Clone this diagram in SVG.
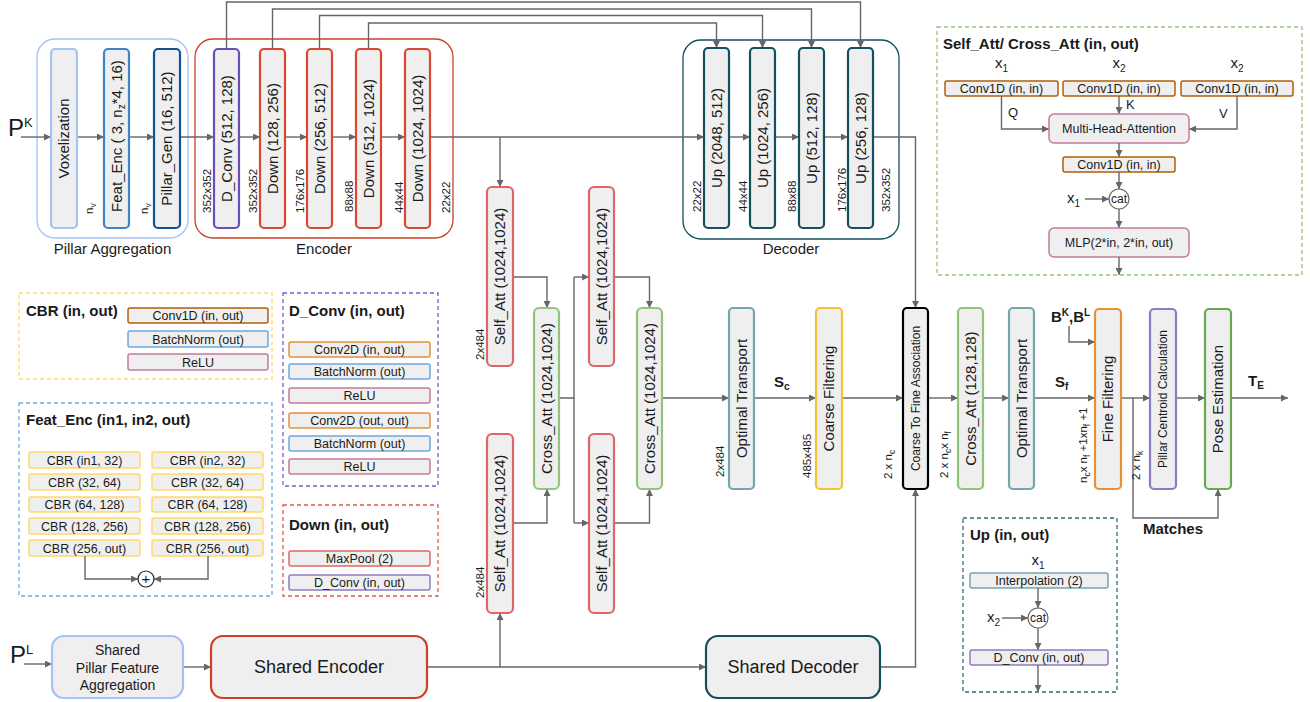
<svg xmlns="http://www.w3.org/2000/svg" width="1310" height="702" viewBox="0 0 1310 702">
<defs>
<marker id="ah" viewBox="0 0 10 10" refX="10" refY="5" markerWidth="8" markerHeight="7" markerUnits="userSpaceOnUse" orient="auto"><path d="M0,0L10,5L0,10z" fill="#666"/></marker>
<style>
text{font-family:'Liberation Sans',Arial,sans-serif;fill:#1a1a1a}
.vb{fill:#efefef;stroke-width:2.2}
.lb{fill:#efefef;stroke-width:1.5}
.cn{fill:none;stroke-width:1.3}
.ln{fill:none;stroke:#666;stroke-width:1.4}
.ar{marker-end:url(#ah)}
.dash{fill:none;stroke-width:1.3;stroke-dasharray:4 3}
.t15{font-size:15px}
.t12{font-size:12.5px}
.tv12{font-size:12px}
.t13{font-size:13px}
.s11{font-size:11.5px}
.b15{font-size:15px;font-weight:bold}
.mid{text-anchor:middle}
</style>
</defs>

<!-- containers -->
<g id="pillar-aggregation">
<rect class="cn" x="37" y="39" width="151" height="199" rx="18" stroke="#a4c2f4"/>
<text class="t15 mid" x="112.5" y="254">Pillar Aggregation</text>
</g>
<g id="encoder">
<rect class="cn" x="195" y="39" width="258" height="199" rx="18" stroke="#cc4125"/>
<text class="t15 mid" x="324" y="254">Encoder</text>
</g>
<g id="decoder">
<rect class="cn" x="683" y="40" width="216" height="199" rx="18" stroke="#134f5c"/>
<text class="t15 mid" x="791" y="254">Decoder</text>
</g>

<!-- connectors -->
<g id="connectors">
<path class="ln ar" d="M21,137H51"/>
<path class="ln ar" d="M77,137H104"/>
<path class="ln ar" d="M129,137H154"/>
<path class="ln ar" d="M180,137H214"/>
<path class="ln ar" d="M239,137H260"/>
<path class="ln ar" d="M285,137H307"/>
<path class="ln ar" d="M332,137H356"/>
<path class="ln ar" d="M381,137H405"/>
<path class="ln ar" d="M430,137H704"/>
<path class="ln ar" d="M729,137H750"/>
<path class="ln ar" d="M775,137H799"/>
<path class="ln ar" d="M824,137H848"/>
<path class="ln ar" d="M873,137H915.5V308"/>
<path class="ln ar" d="M226.5,49V2H860.5V48"/>
<path class="ln ar" d="M272.5,49V9H811.5V48"/>
<path class="ln ar" d="M319.5,49V15.5H762.5V48"/>
<path class="ln ar" d="M368.5,49V23H716.5V48"/>
<path class="ln ar" d="M500,137V187"/>
<path class="ln ar" d="M500,667V613"/>
<path class="ln ar" d="M513,277H547V308"/>
<path class="ln ar" d="M513,523H547V489"/>
<path class="ln" d="M559,398H574M574,277V523"/>
<path class="ln ar" d="M574,277H589"/>
<path class="ln ar" d="M574,523H589"/>
<path class="ln ar" d="M614,277H649.5V308"/>
<path class="ln ar" d="M614,523H649.5V489"/>
<path class="ln ar" d="M662,398H729"/>
<path class="ln ar" d="M754,398H816"/>
<path class="ln ar" d="M842,398H903"/>
<path class="ln ar" d="M928,398H958"/>
<path class="ln ar" d="M983,398H1009"/>
<path class="ln ar" d="M1034,398H1095"/>
<path class="ln ar" d="M1121,398H1150"/>
<path class="ln ar" d="M1176,398H1205"/>
<path class="ln ar" d="M1231,398H1288"/>
<path class="ln ar" d="M1133,398V518H1218V489"/>
<path class="ln ar" d="M1069,326V342H1095"/>
<path class="ln ar" d="M24,664H52"/>
<path class="ln ar" d="M183,667H211"/>
<path class="ln ar" d="M427,667H706"/>
<path class="ln ar" d="M880,667H915.5V489"/>
</g>

<!-- inputs -->
<g id="input-pk"><text x="8" y="136" font-size="24">P<tspan dy="-9" font-size="13">K</tspan></text></g>
<g id="input-pl"><text x="10" y="663" font-size="24">P<tspan dy="-9" font-size="13">L</tspan></text></g>

<!-- pillar aggregation nodes -->
<g id="voxelization"><rect class="vb" x="51" y="49" width="26" height="179" rx="4" stroke="#a4c2f4"/><text class="t15 mid" transform="rotate(-90 64 138.5)" x="64" y="143.5">Voxelization</text></g>
<g id="feat-enc"><rect class="vb" x="104" y="49" width="25" height="179" rx="4" stroke="#3d85c6"/><text class="t15 mid" transform="rotate(-90 116.5 136)" x="116.5" y="141">Feat_Enc ( 3, n<tspan dy="3" font-size="10">z</tspan><tspan dy="-3">*4, 16)</tspan></text></g>
<g id="pillar-gen"><rect class="vb" x="154" y="49" width="26" height="179" rx="4" stroke="#0b5394"/><text class="t15 mid" transform="rotate(-90 167 138.5)" x="167" y="143.5">Pillar_Gen (16, 512)</text></g>
<g id="lbl-nv"><text class="s11" transform="rotate(-90 93 214)" x="93" y="214">n<tspan dy="3" font-size="8.5">v</tspan></text><text class="s11" transform="rotate(-90 148 214)" x="148" y="214">n<tspan dy="3" font-size="8.5">v</tspan></text></g>

<!-- encoder nodes -->
<g id="d-conv"><rect class="vb" x="214" y="49" width="25" height="179" rx="4" stroke="#6a4fb5"/><text class="t15 mid" transform="rotate(-90 226.5 138.5)" x="226.5" y="143.5">D_Conv (512, 128)</text></g>
<g id="down1"><rect class="vb" x="260" y="49" width="25" height="179" rx="4" stroke="#d9482f"/><text class="t15 mid" transform="rotate(-90 272.5 138.5)" x="272.5" y="143.5">Down (128, 256)</text></g>
<g id="down2"><rect class="vb" x="307" y="49" width="25" height="179" rx="4" stroke="#d9482f"/><text class="t15 mid" transform="rotate(-90 319.5 138.5)" x="319.5" y="143.5">Down (256, 512)</text></g>
<g id="down3"><rect class="vb" x="356" y="49" width="25" height="179" rx="4" stroke="#d9482f"/><text class="t15 mid" transform="rotate(-90 368.5 138.5)" x="368.5" y="143.5">Down (512, 1024)</text></g>
<g id="down4"><rect class="vb" x="405" y="49" width="25" height="179" rx="4" stroke="#d9482f"/><text class="t15 mid" transform="rotate(-90 417.5 138.5)" x="417.5" y="143.5">Down (1024, 1024)</text></g>
<g id="enc-sizes">
<text class="s11" transform="rotate(-90 211 213)" x="211" y="213">352x352</text>
<text class="s11" transform="rotate(-90 257 213)" x="257" y="213">352x352</text>
<text class="s11" transform="rotate(-90 304 213)" x="304" y="213">176x176</text>
<text class="s11" transform="rotate(-90 353 212)" x="353" y="212">88x88</text>
<text class="s11" transform="rotate(-90 403 213)" x="403" y="213">44x44</text>
<text class="s11" transform="rotate(-90 450 213)" x="450" y="213">22x22</text>
</g>

<!-- decoder nodes -->
<g id="up1"><rect class="vb" x="704" y="48" width="25" height="180" rx="4" stroke="#134f5c" stroke-width="2.5"/><text class="t15 mid" transform="rotate(-90 716.5 138)" x="716.5" y="143">Up (2048, 512)</text></g>
<g id="up2"><rect class="vb" x="750" y="48" width="25" height="180" rx="4" stroke="#134f5c" stroke-width="2.5"/><text class="t15 mid" transform="rotate(-90 762.5 138)" x="762.5" y="143">Up (1024, 256)</text></g>
<g id="up3"><rect class="vb" x="799" y="48" width="25" height="180" rx="4" stroke="#134f5c" stroke-width="2.5"/><text class="t15 mid" transform="rotate(-90 811.5 138)" x="811.5" y="143">Up (512, 128)</text></g>
<g id="up4"><rect class="vb" x="848" y="48" width="25" height="180" rx="4" stroke="#134f5c" stroke-width="2.5"/><text class="t15 mid" transform="rotate(-90 860.5 138)" x="860.5" y="143">Up (256, 128)</text></g>
<g id="dec-sizes">
<text class="s11" transform="rotate(-90 701 212)" x="701" y="212">22x22</text>
<text class="s11" transform="rotate(-90 747 212)" x="747" y="212">44x44</text>
<text class="s11" transform="rotate(-90 796 212)" x="796" y="212">88x88</text>
<text class="s11" transform="rotate(-90 846 212)" x="846" y="212">176x176</text>
<text class="s11" transform="rotate(-90 890 212)" x="890" y="212">352x352</text>
</g>

<!-- attention stack -->
<g id="self-att-tl"><rect class="vb" x="487" y="187" width="26" height="179" rx="5" stroke="#e06666"/><text class="t15 mid" transform="rotate(-90 500 276.5)" x="500" y="281.5">Self_Att (1024,1024)</text></g>
<g id="self-att-bl"><rect class="vb" x="487" y="434" width="26" height="179" rx="5" stroke="#e06666"/><text class="t15 mid" transform="rotate(-90 500 523.5)" x="500" y="528.5">Self_Att (1024,1024)</text></g>
<g id="cross-att-l"><rect class="vb" x="534" y="308" width="25" height="181" rx="5" stroke="#93c47d"/><text class="t15 mid" transform="rotate(-90 546.5 398.5)" x="546.5" y="403.5">Cross_Att (1024,1024)</text></g>
<g id="self-att-tr"><rect class="vb" x="589" y="187" width="25" height="179" rx="5" stroke="#e06666"/><text class="t15 mid" transform="rotate(-90 601.5 276.5)" x="601.5" y="281.5">Self_Att (1024,1024)</text></g>
<g id="self-att-br"><rect class="vb" x="589" y="434" width="25" height="179" rx="5" stroke="#e06666"/><text class="t15 mid" transform="rotate(-90 601.5 523.5)" x="601.5" y="528.5">Self_Att (1024,1024)</text></g>
<g id="cross-att-r"><rect class="vb" x="637" y="308" width="25" height="181" rx="5" stroke="#93c47d"/><text class="t15 mid" transform="rotate(-90 649.5 398.5)" x="649.5" y="403.5">Cross_Att (1024,1024)</text></g>
<g id="att-sizes">
<text class="s11" transform="rotate(-90 484 360)" x="484" y="360">2x484</text>
<text class="s11" transform="rotate(-90 484 598)" x="484" y="598">2x484</text>
</g>

<!-- matching pipeline -->
<g id="optimal-transport-1"><rect class="vb" x="729" y="308" width="25" height="181" rx="4" stroke="#76a5af"/><text class="t15 mid" transform="rotate(-90 741.5 398.5)" x="741.5" y="403.5">Optimal Transport</text></g>
<g id="coarse-filtering"><rect class="vb" x="816" y="308" width="26" height="181" rx="4" stroke="#f1c232"/><text class="t15 mid" transform="rotate(-90 829 398.5)" x="829" y="403.5">Coarse Filtering</text></g>
<g id="coarse-to-fine"><rect class="vb" x="903" y="308" width="25" height="181" rx="4" stroke="#000" stroke-width="2.4"/><text class="tv12 mid" transform="rotate(-90 915.5 398.5)" x="915.5" y="402.5">Coarse To Fine Association</text></g>
<g id="cross-att-fine"><rect class="vb" x="958" y="308" width="25" height="181" rx="4" stroke="#93c47d"/><text class="t15 mid" transform="rotate(-90 970.5 398.5)" x="970.5" y="403.5">Cross_Att (128,128)</text></g>
<g id="optimal-transport-2"><rect class="vb" x="1009" y="308" width="25" height="181" rx="4" stroke="#76a5af"/><text class="t15 mid" transform="rotate(-90 1021.5 398.5)" x="1021.5" y="403.5">Optimal Transport</text></g>
<g id="fine-filtering"><rect class="vb" x="1095" y="309" width="26" height="180" rx="4" stroke="#e69138"/><text class="t15 mid" transform="rotate(-90 1108 399)" x="1108" y="404">Fine Filtering</text></g>
<g id="pillar-centroid"><rect class="vb" x="1150" y="309" width="26" height="180" rx="4" stroke="#8e7cc3"/><text class="tv12 mid" transform="rotate(-90 1163 399)" x="1163" y="403">Pillar Centroid Calculation</text></g>
<g id="pose-estimation"><rect class="vb" x="1205" y="309" width="26" height="180" rx="4" stroke="#6aa84f"/><text class="t15 mid" transform="rotate(-90 1218 399)" x="1218" y="404">Pose Estimation</text></g>
<g id="pipe-labels">
<text class="s11" transform="rotate(-90 724 477)" x="724" y="477">2x484</text>
<text class="s11" transform="rotate(-90 811 478)" x="811" y="478">485x485</text>
<text class="s11" transform="rotate(-90 892 479)" x="892" y="479">2 x n<tspan dy="3" font-size="8.5">c</tspan></text>
<text class="s11" transform="rotate(-90 948 478)" x="948" y="478">2 x n<tspan dy="3" font-size="8.5">c</tspan><tspan dy="-3">x n</tspan><tspan dy="3" font-size="8.5">f</tspan></text>
<text class="s11" transform="rotate(-90 1087 483)" x="1087" y="483">n<tspan dy="3" font-size="8.5">c</tspan><tspan dy="-3">x n</tspan><tspan dy="3" font-size="8.5">f</tspan><tspan dy="-3"> +1xn</tspan><tspan dy="3" font-size="8.5">f</tspan><tspan dy="-3"> +1</tspan></text>
<text class="s11" transform="rotate(-90 1140 480)" x="1140" y="480">2 x n<tspan dy="3" font-size="8.5">k</tspan></text>
<text class="b15" x="774" y="387">S<tspan dy="3" font-size="10">c</tspan></text>
<text class="b15" x="1055" y="387">S<tspan dy="3" font-size="10">f</tspan></text>
<text class="b15" x="1248" y="386">T<tspan dy="3" font-size="10">E</tspan></text>
<text class="b15" x="1051" y="322">B<tspan dy="-6" font-size="10">K</tspan><tspan dy="6">,B</tspan><tspan dy="-6" font-size="10">L</tspan></text>
<text class="b15 mid" x="1173" y="534">Matches</text>
</g>

<!-- shared bottom row -->
<g id="shared-pillar"><rect class="vb" x="52" y="636" width="131" height="62" rx="12" stroke="#a4c2f4"/><text class="mid" font-size="14" x="117.5" y="655">Shared</text><text class="mid" font-size="14" x="117.5" y="673">Pillar Feature</text><text class="mid" font-size="14" x="117.5" y="690">Aggregation</text></g>
<g id="shared-encoder"><rect class="vb" x="211" y="636" width="216" height="62" rx="12" stroke="#cc4125"/><text class="mid" font-size="18" x="319" y="673">Shared Encoder</text></g>
<g id="shared-decoder"><rect class="vb" x="706" y="636" width="174" height="62" rx="12" stroke="#134f5c"/><text class="mid" font-size="18" x="793" y="673">Shared Decoder</text></g>

<!-- legend: Self_Att / Cross_Att -->
<g id="legend-att">
<rect class="dash" x="937" y="27" width="365" height="248" stroke="#93c47d"/>
<text class="b15" x="943" y="49">Self_Att/ Cross_Att (in, out)</text>
<text class="t15 mid" x="1001.5" y="68">x<tspan dy="4" font-size="10">1</tspan></text>
<text class="t15 mid" x="1119" y="68">x<tspan dy="4" font-size="10">2</tspan></text>
<text class="t15 mid" x="1237" y="68">x<tspan dy="4" font-size="10">2</tspan></text>
<rect class="lb" x="945" y="81" width="113" height="15" rx="2" stroke="#b45f06"/><text class="t12 mid" x="1001.5" y="93">Conv1D (in, in)</text>
<rect class="lb" x="1063" y="81" width="112" height="15" rx="2" stroke="#b45f06"/><text class="t12 mid" x="1119" y="93">Conv1D (in, in)</text>
<rect class="lb" x="1181" y="81" width="112" height="15" rx="2" stroke="#b45f06"/><text class="t12 mid" x="1237" y="93">Conv1D (in, in)</text>
<path class="ln ar" d="M1001.5,96V129H1049"/>
<path class="ln ar" d="M1119,96V114"/>
<path class="ln ar" d="M1237,96V129H1189"/>
<text class="t13" x="1008" y="117">Q</text>
<text class="t13" x="1126" y="109">K</text>
<text class="t13" x="1219" y="118">V</text>
<rect class="lb" x="1049" y="114" width="140" height="29" rx="5" stroke="#c27ba0"/><text class="t12 mid" x="1119" y="133">Multi-Head-Attention</text>
<path class="ln ar" d="M1119,143V157"/>
<rect class="lb" x="1063" y="157" width="112" height="15" rx="2" stroke="#b45f06"/><text class="t12 mid" x="1119" y="169">Conv1D (in, in)</text>
<path class="ln ar" d="M1119,172V189"/>
<circle cx="1119" cy="199" r="10" fill="#fff" stroke="#666" stroke-width="1.2"/><text class="tv12 mid" x="1119" y="203">cat</text>
<text class="t15" x="1067" y="203">x<tspan dy="4" font-size="10">1</tspan></text>
<path class="ln ar" d="M1085,199H1109"/>
<path class="ln ar" d="M1119,209V228"/>
<rect class="lb" x="1049" y="228" width="140" height="29" rx="5" stroke="#c27ba0"/><text class="t12 mid" x="1119" y="247">MLP(2*in, 2*in, out)</text>
<path class="ln ar" d="M1119,257V275"/>
</g>

<!-- legend: CBR -->
<g id="legend-cbr">
<rect class="dash" x="19" y="293" width="253" height="86" stroke="#ffd966"/>
<text class="b15" x="26" y="316">CBR (in, out)</text>
<rect class="lb" x="128" y="308" width="140" height="15" rx="2" stroke="#b45f06"/><text class="t12 mid" x="198" y="320">Conv1D (in, out)</text>
<rect class="lb" x="128" y="331" width="140" height="16" rx="2" stroke="#6fa8dc"/><text class="t12 mid" x="198" y="343.5">BatchNorm (out)</text>
<rect class="lb" x="128" y="354" width="140" height="16" rx="2" stroke="#c27ba0"/><text class="t12 mid" x="198" y="366.5">ReLU</text>
</g>

<!-- legend: D_Conv -->
<g id="legend-dconv">
<rect class="dash" x="283" y="293" width="155" height="193" stroke="#7b5cc9"/>
<text class="b15" x="289" y="316">D_Conv (in, out)</text>
<rect class="lb" x="289" y="342" width="141" height="15" rx="2" stroke="#e69138"/><text class="t12 mid" x="359.5" y="354">Conv2D (in, out)</text>
<rect class="lb" x="289" y="364" width="141" height="15" rx="2" stroke="#6fa8dc"/><text class="t12 mid" x="359.5" y="376">BatchNorm (out)</text>
<rect class="lb" x="289" y="388" width="141" height="15" rx="2" stroke="#c27ba0"/><text class="t12 mid" x="359.5" y="400">ReLU</text>
<rect class="lb" x="289" y="413" width="141" height="15" rx="2" stroke="#e69138"/><text class="t12 mid" x="359.5" y="425">Conv2D (out, out)</text>
<rect class="lb" x="289" y="436" width="141" height="15" rx="2" stroke="#6fa8dc"/><text class="t12 mid" x="359.5" y="448">BatchNorm (out)</text>
<rect class="lb" x="289" y="459" width="141" height="15" rx="2" stroke="#c27ba0"/><text class="t12 mid" x="359.5" y="471">ReLU</text>
</g>

<!-- legend: Feat_Enc -->
<g id="legend-featenc">
<rect class="dash" x="19" y="403" width="253" height="193" stroke="#6fa8dc"/>
<text class="b15" x="26" y="425">Feat_Enc (in1, in2, out)</text>
<rect class="lb" x="29" y="452" width="111" height="16" rx="2" stroke="#ffd966"/><text class="t12 mid" x="84.5" y="464.5">CBR (in1, 32)</text>
<rect class="lb" x="152" y="452" width="111" height="16" rx="2" stroke="#ffd966"/><text class="t12 mid" x="207.5" y="464.5">CBR (in2, 32)</text>
<rect class="lb" x="29" y="474" width="111" height="16" rx="2" stroke="#ffd966"/><text class="t12 mid" x="84.5" y="486.5">CBR (32, 64)</text>
<rect class="lb" x="152" y="474" width="111" height="16" rx="2" stroke="#ffd966"/><text class="t12 mid" x="207.5" y="486.5">CBR (32, 64)</text>
<rect class="lb" x="29" y="497" width="111" height="15" rx="2" stroke="#ffd966"/><text class="t12 mid" x="84.5" y="509">CBR (64, 128)</text>
<rect class="lb" x="152" y="497" width="111" height="15" rx="2" stroke="#ffd966"/><text class="t12 mid" x="207.5" y="509">CBR (64, 128)</text>
<rect class="lb" x="29" y="518" width="111" height="16" rx="2" stroke="#ffd966"/><text class="t12 mid" x="84.5" y="530.5">CBR (128, 256)</text>
<rect class="lb" x="152" y="518" width="111" height="16" rx="2" stroke="#ffd966"/><text class="t12 mid" x="207.5" y="530.5">CBR (128, 256)</text>
<rect class="lb" x="29" y="540" width="111" height="16" rx="2" stroke="#ffd966"/><text class="t12 mid" x="84.5" y="552.5">CBR (256, out)</text>
<rect class="lb" x="152" y="540" width="111" height="16" rx="2" stroke="#ffd966"/><text class="t12 mid" x="207.5" y="552.5">CBR (256, out)</text>
<path class="ln ar" d="M85,556V579H138"/>
<path class="ln ar" d="M208,556V579H154"/>
<circle cx="146" cy="579" r="8" fill="#fff" stroke="#222" stroke-width="1.2"/><text class="t15 mid" x="146" y="584">+</text>
</g>

<!-- legend: Down -->
<g id="legend-down">
<rect class="dash" x="283" y="505" width="155" height="91" stroke="#e0584a"/>
<text class="b15" x="289" y="530">Down (in, out)</text>
<rect class="lb" x="289" y="551" width="141" height="15" rx="2" stroke="#e06666"/><text class="t12 mid" x="359.5" y="563">MaxPool (2)</text>
<rect class="lb" x="289" y="575" width="141" height="15" rx="2" stroke="#8e7cc3"/><text class="t12 mid" x="359.5" y="587">D_Conv (in, out)</text>
</g>

<!-- legend: Up -->
<g id="legend-up">
<rect class="dash" x="963" y="518" width="154" height="174" stroke="#2d6b78"/>
<text class="b15" x="970" y="540">Up (in, out)</text>
<text class="t15 mid" x="1038" y="565">x<tspan dy="4" font-size="10">1</tspan></text>
<rect class="lb" x="970" y="573" width="138" height="15" rx="2" stroke="#76a5af"/><text class="t12 mid" x="1039" y="585">Interpolation (2)</text>
<path class="ln ar" d="M1038,588V608"/>
<circle cx="1038" cy="618" r="10" fill="#fff" stroke="#666" stroke-width="1.2"/><text class="tv12 mid" x="1038" y="622">cat</text>
<text class="t15" x="987" y="622">x<tspan dy="4" font-size="10">2</tspan></text>
<path class="ln ar" d="M1002,618H1028"/>
<path class="ln ar" d="M1038,628V650"/>
<rect class="lb" x="970" y="650" width="138" height="15" rx="2" stroke="#8e7cc3"/><text class="t12 mid" x="1039" y="662">D_Conv (in, out)</text>
<path class="ln ar" d="M1038,665V692"/>
</g>
</svg>
